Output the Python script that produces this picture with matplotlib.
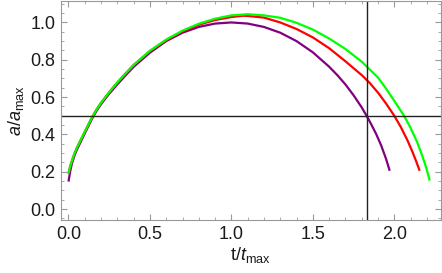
import matplotlib
matplotlib.use("Agg")
import matplotlib.pyplot as plt
from matplotlib.ticker import MultipleLocator

plt.rcParams['font.family'] = ['Liberation Sans', 'DejaVu Sans']
plt.rcParams['mathtext.fontset'] = 'custom'
plt.rcParams['mathtext.rm'] = 'Liberation Sans'
plt.rcParams['mathtext.it'] = 'Liberation Sans:italic'

# purple curve
t_purple = [0.0, 0.01, 0.02, 0.035, 0.05, 0.075, 0.1, 0.125, 0.15, 0.175, 0.2, 0.25, 0.3, 0.35, 0.4,
            0.5, 0.6, 0.7, 0.8, 0.9, 1.0, 1.1, 1.2, 1.3, 1.4, 1.5, 1.6, 1.65, 1.7, 1.75, 1.8,
            1.83, 1.86, 1.89, 1.92, 1.95, 1.972]
a_purple = [0.147, 0.2, 0.24, 0.282, 0.315, 0.36, 0.405, 0.45, 0.493, 0.53, 0.562, 0.618, 0.668, 0.716, 0.762,
            0.838, 0.9, 0.945, 0.976, 0.994, 1.0, 0.994, 0.976, 0.945, 0.9, 0.84, 0.763, 0.718, 0.668, 0.61, 0.545,
            0.5, 0.452, 0.4, 0.34, 0.268, 0.205]

# red curve
t_red = [0.0, 0.01, 0.02, 0.035, 0.05, 0.075, 0.1, 0.125, 0.15, 0.175, 0.2, 0.25, 0.3, 0.35, 0.4,
         0.5, 0.6, 0.7, 0.8, 0.9, 1.0, 1.07, 1.1, 1.2, 1.3, 1.4, 1.5, 1.6, 1.7, 1.8, 1.85,
         1.9, 1.95, 2.0, 2.04, 2.08, 2.11, 2.135, 2.156]
a_red = [0.19, 0.228, 0.255, 0.293, 0.325, 0.37, 0.413, 0.458, 0.5, 0.537, 0.569, 0.626, 0.678, 0.726, 0.772,
         0.846, 0.905, 0.952, 0.988, 1.013, 1.029, 1.036, 1.035, 1.026, 1.0, 0.965, 0.92, 0.862, 0.792, 0.718, 0.675,
         0.624, 0.565, 0.5, 0.44, 0.37, 0.31, 0.255, 0.205]

# green curve
t_green = [0.0, 0.01, 0.02, 0.035, 0.05, 0.075, 0.1, 0.125, 0.15, 0.175, 0.2, 0.25, 0.3, 0.35, 0.4,
           0.5, 0.6, 0.7, 0.8, 0.9, 1.0, 1.1, 1.2, 1.3, 1.4, 1.5, 1.6, 1.7, 1.8, 1.9,
           1.95, 2.0, 2.03, 2.06, 2.1, 2.14, 2.17, 2.195, 2.218]
a_green = [0.19, 0.228, 0.255, 0.293, 0.325, 0.37, 0.413, 0.458, 0.5, 0.537, 0.569, 0.626, 0.678, 0.726, 0.772,
           0.848, 0.908, 0.956, 0.993, 1.02, 1.038, 1.044, 1.038, 1.025, 0.998, 0.962, 0.914, 0.858, 0.79, 0.705,
           0.645, 0.58, 0.54, 0.5, 0.435, 0.36, 0.29, 0.225, 0.152]

t_mark = 1.83
a_mark = 0.5

fig = plt.figure(figsize=(4.42, 2.73), dpi=100)
ax = fig.add_axes([0.138, 0.194, 0.859, 0.801])

ax.plot(t_purple, a_purple, color='#800080', lw=1.6, solid_capstyle='butt')
ax.plot(t_red, a_red, color='#ff0000', lw=1.6, solid_capstyle='butt')
ax.plot(t_green, a_green, color='#00ff00', lw=1.6, solid_capstyle='butt')
ax.axhline(a_mark, color='#222222', lw=1.0)
ax.axvline(t_mark, color='#222222', lw=1.0)

ax.set_xlim(-0.046, 2.285)
ax.set_ylim(-0.059, 1.113)

ax.xaxis.set_major_locator(MultipleLocator(0.5))
ax.xaxis.set_minor_locator(MultipleLocator(0.1))
ax.yaxis.set_major_locator(MultipleLocator(0.2))
ax.yaxis.set_minor_locator(MultipleLocator(0.05))
ax.xaxis.set_major_formatter(plt.FuncFormatter(lambda v, p: f"{v:.1f}"))
ax.yaxis.set_major_formatter(plt.FuncFormatter(lambda v, p: f"{v:.1f}"))

ax.tick_params(which='both', direction='in', top=True, right=True, color='#999999',
               labelsize=13, labelcolor='#1a1a1a')
ax.tick_params(which='major', length=4, width=0.8, pad=4)
ax.tick_params(which='minor', length=2.5, width=0.6)
for s in ax.spines.values():
    s.set_color('#999999')
    s.set_linewidth(0.8)

ax.set_xlabel(r'$\mathrm{t}/t_{\mathrm{max}}$', fontsize=13, color='#1a1a1a', labelpad=2)
ax.set_ylabel(r'$a/a_{\mathrm{max}}$', fontsize=13, color='#1a1a1a', labelpad=3)

fig.savefig('out.png', dpi=100)
